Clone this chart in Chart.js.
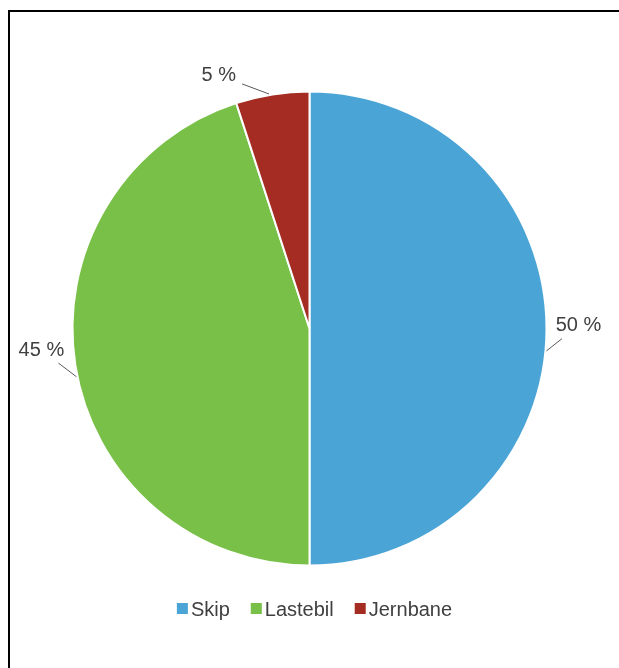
<!DOCTYPE html>
<html>
<head>
<meta charset="utf-8">
<script src="https://cdn.jsdelivr.net/npm/chart.js@4.4.1/dist/chart.umd.min.js"></script>
<style>
  html, body { margin: 0; padding: 0; background: #fff; }
  #wrap { position: relative; width: 619px; height: 668px; }
</style>
</head>
<body>
<div id="wrap"><canvas id="chart" width="619" height="668"></canvas></div>
<script>
const categories = ["Skip", "Lastebil", "Jernbane"];
const shares = [50, 45, 5];
const sliceColors = ["#4BA4D6", "#78C048", "#A52C22"];

// label placement (degrees relative to the slice middle), mimics the Excel "best fit"
const labelShift = [-0.6, 4.4, -10.7];
const leaderShift = [5.4, -2.7, -0.8];

const font = "20px 'Liberation Sans', Arial, sans-serif";
const textColor = "#404040";

const deg = Math.PI / 180;

const sliceLabels = {
  id: "sliceLabels",
  afterDatasetsDraw(chart) {
    const ctx = chart.ctx;
    const arcs = chart.getDatasetMeta(0).data;
    ctx.save();
    ctx.font = font;
    ctx.textAlign = "center";
    ctx.textBaseline = "middle";
    arcs.forEach((arc, i) => {
      const { x, y, startAngle, endAngle, outerRadius } = arc.getProps(
        ["x", "y", "startAngle", "endAngle", "outerRadius"], true);
      const mid = (startAngle + endAngle) / 2;
      const text = shares[i] + " %";
      const w = ctx.measureText(text).width;

      const la = mid + labelShift[i] * deg;
      const lx = x + Math.cos(la) * (outerRadius + 32);
      const ly = y + Math.sin(la) * (outerRadius + 32);

      const aa = mid + leaderShift[i] * deg;
      const ax = x + Math.cos(aa) * (outerRadius + 1);
      const ay = y + Math.sin(aa) * (outerRadius + 1);

      const dx = ax - lx, dy = ay - ly;
      const t = Math.min((w / 2 + 6) / Math.abs(dx || 1e-6), 13 / Math.abs(dy || 1e-6));
      const ex = lx + dx * t, ey = ly + dy * t;

      ctx.strokeStyle = "#595959";
      ctx.lineWidth = 1;
      ctx.beginPath();
      ctx.moveTo(ax, ay);
      ctx.lineTo(ex, ey);
      ctx.stroke();

      ctx.fillStyle = textColor;
      ctx.fillText(text, lx, ly);
    });
    ctx.restore();
  },
  afterDraw(chart) {
    const ctx = chart.ctx;
    ctx.save();
    // frame
    ctx.fillStyle = "#000";
    ctx.fillRect(8, 10, chart.width - 8, 2);
    ctx.fillRect(8, 10, 2, chart.height - 10);

    // legend
    ctx.font = font;
    ctx.textBaseline = "alphabetic";
    ctx.textAlign = "left";
    const box = 11, gap = 3, spacing = 21;
    const widths = categories.map((c) => ctx.measureText(c).width);
    const total = widths.reduce((s, w) => s + box + gap + w, 0) + spacing * (categories.length - 1);
    let x = (10 + chart.width) / 2 - total / 2;
    const baseline = 616;
    categories.forEach((c, i) => {
      ctx.fillStyle = sliceColors[i];
      ctx.fillRect(x, baseline - 13, box, box);
      x += box + gap;
      ctx.fillStyle = textColor;
      ctx.fillText(c, x, baseline);
      x += widths[i] + spacing;
    });
    ctx.restore();
  },
};

new Chart(document.getElementById("chart"), {
  type: "pie",
  data: {
    labels: categories,
    datasets: [
      {
        data: shares,
        backgroundColor: sliceColors,
        borderColor: "#ffffff",
        borderWidth: 2,
        radius: 237,
      },
    ],
  },
  options: {
    responsive: false,
    devicePixelRatio: 1,
    animation: false,
    layout: { padding: { left: 40, right: 40, top: 80, bottom: 91 } },
    plugins: {
      legend: { display: false },
      tooltip: { enabled: false },
    },
  },
  plugins: [sliceLabels],
});
</script>
</body>
</html>
